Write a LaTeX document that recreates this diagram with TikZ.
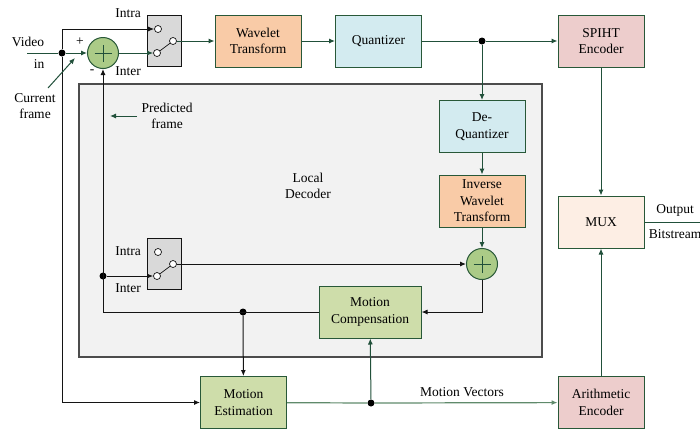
\documentclass[tikz,border=0pt]{standalone}
\usepackage{xcolor}
\usepackage{fontspec}
\setmainfont{Liberation Serif}
\usepackage{tikz}
\usetikzlibrary{arrows.meta}

\definecolor{gline}{HTML}{21503A}
\definecolor{kline}{HTML}{141414}
\definecolor{mvline}{HTML}{5F8A6B}
\definecolor{boxline}{HTML}{285838}
\definecolor{waveC}{HTML}{F9CBA7}
\definecolor{quantC}{HTML}{D3EBF0}
\definecolor{codeC}{HTML}{EDCDCC}
\definecolor{muxC}{HTML}{FDEEE4}
\definecolor{motionC}{HTML}{CEDDAA}
\definecolor{adderC}{HTML}{ABCB87}
\definecolor{switchC}{HTML}{D9D9D9}
\definecolor{localC}{HTML}{F2F2F2}

\tikzset{
    block/.style={draw=boxline, line width=1pt, minimum width=86pt, minimum height=52pt, align=center, inner sep=1pt},
    adder/.style={circle, draw=boxline, line width=1pt, fill=adderC, minimum size=31pt, inner sep=0pt,
        path picture={\draw[gline, line width=0.9pt] ([xshift=-8.5pt]path picture bounding box.center) -- ([xshift=8.5pt]path picture bounding box.center);
                      \draw[gline, line width=0.9pt] ([yshift=-8.5pt]path picture bounding box.center) -- ([yshift=8.5pt]path picture bounding box.center);}},
    switchbox/.style={draw=kline, line width=1pt, fill=switchC, minimum width=34pt, minimum height=51pt, inner sep=0pt},
    contact/.style={circle, draw=kline, line width=0.7pt, fill=white, minimum size=7pt, inner sep=0pt},
    dot/.style={circle, fill=black, minimum size=7pt, inner sep=0pt},
    gwire/.style={gline, line width=1pt},
    kwire/.style={kline, line width=1pt}
}

\begin{document}
\begin{tikzpicture}[>={Latex[length=6pt,width=5pt]}, x=1pt, y=-1pt, font=\fontsize{13.5}{16.5}\selectfont]
            \useasboundingbox (0,0) rectangle (700,429);

            % Local decoder area
            \node[draw=black!70, line width=1.1pt, fill=localC, minimum width=463pt, minimum height=273pt, inner sep=0pt] (local) at (310.5,220.5) {};
            \node[align=center] (locallab) at (308,186) {Local\\Decoder};

            % Blocks
            \node[block, fill=waveC] (wt) at (258,41) {Wavelet\\Transform};
            \node[block, fill=quantC] (quant) at (378.5,41) {Quantizer};
            \node[block, fill=codeC] (spiht) at (601,41) {SPIHT\\Encoder};
            \node[block, fill=quantC] (deq) at (482,126.5) {De-\\Quantizer};
            \node[block, fill=waveC] (iwt) at (482,201) {Inverse\\Wavelet\\Transform};
            \node[block, fill=muxC] (mux) at (601,222) {MUX};
            \node[block, fill=motionC, minimum width=102pt] (mc) at (370,312) {Motion\\Compensation};
            \node[block, fill=motionC] (me) at (243.5,402.5) {Motion\\Estimation};
            \node[block, fill=codeC] (ae) at (601,402.5) {Arithmetic\\Encoder};

            % Adders
            \node[adder] (add1) at (103,53) {};
            \node[adder] (add2) at (482,264) {};

            % Switches (upper and lower)
            \foreach \s/\dy in {1/0, 2/223}
            {
                \node[switchbox] (sw\s) at (164,{40.5+\dy}) {};
                \node[contact] (sw\s-intra) at (158,{29+\dy}) {};
                \node[contact] (sw\s-inter) at (157,{53+\dy}) {};
                \node[contact] (sw\s-out) at (173,{41+\dy}) {};
                \draw[kwire, line width=0.7pt] (sw\s-inter) -- (sw\s-out);
            }
            \node (intra1) at (128,13) {Intra};
            \node (inter1) at (128,71) {Inter};
            \node (intra2) at (128,251) {Intra};
            \node (inter2) at (128,288) {Inter};

            % Junction dots
            \node[dot] (d1) at (62,53) {};
            \node[dot] (d2) at (482,41) {};
            \node[dot] (d3) at (243,312) {};
            \node[dot] (d4) at (103,276) {};
            \node[dot] (d5) at (371,403) {};

            % Input
            \coordinate (vin) at (27,53);
            \node (videolab) at (28,42) {Video};
            \node (inlab) at (39,64) {in};
            \node (plus) at (80,42) {+};
            \node (minus) at (92,72) {-};
            \draw[gwire] (vin) -- (d1);
            \draw[gwire, ->] (d1) -- (add1);
            \draw[kwire, ->] (d1) |- (sw1-intra);
            \draw[kwire, ->] (d1) |- (me);

            % Forward path
            \draw[gwire, ->] (add1) -- (sw1-inter);
            \draw[gwire, ->] (sw1-out) -- (sw1-out -| wt.west);
            \draw[gwire, ->] (wt) -- (quant);
            \draw[gwire] (quant) -- (d2);
            \draw[gwire, ->] (d2) -- (spiht);
            \draw[gwire, ->] (d2) -- (deq);
            \draw[gwire, ->] (deq) -- (iwt);
            \draw[gwire, ->] (iwt) -- (add2);
            \draw[gwire, ->] (spiht) -- (mux);
            \draw[gwire, ->] (ae) -- (mux);

            % Output
            \coordinate (outend) at (700,222);
            \draw[gwire] (mux) -- (outend);
            \node (outlab) at (675,210) {Output};
            \node (bitlab) at (675,234) {Bitstream};

            % Local decoder loop
            \draw[kwire, ->] (sw2-out) -- (sw2-out -| add2.west);
            \draw[kwire, ->] (add2) |- (mc);
            \draw[kwire, ->] (mc) -| (add1);
            \draw[kwire, ->] (d4) -- (sw2-inter);
            \draw[kwire, ->] (d3) -- (me);

            % Motion vectors
            \draw[mvline, line width=1.2pt] (me) -- (d5);
            \draw[mvline, line width=1.2pt, ->] (d5) -- (ae);
            \draw[gwire, ->] (d5) -- (mc);
            \node (mvlab) at (462,392) {Motion Vectors};

            % Frame labels
            \node[align=center] (cflab) at (35,106) {Current\\frame};
            \coordinate (cfstart) at (48,88);
            \coordinate (cftip) at (75,58);
            \draw[gwire, ->] (cfstart) -- (cftip);
            \node[align=center] (pflab) at (167,116) {Predicted\\frame};
            \coordinate (pfstart) at (137,116);
            \coordinate (pftip) at (110,116);
            \draw[gwire, ->] (pfstart) -- (pftip);

        \end{tikzpicture}
\end{document}
